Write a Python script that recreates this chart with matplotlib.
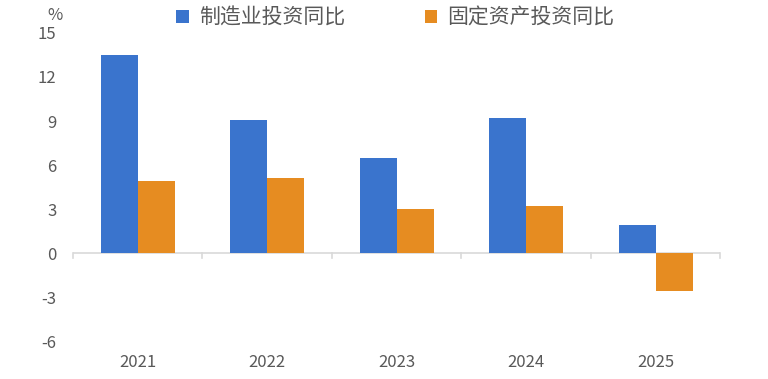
import numpy as np
import matplotlib.pyplot as plt

plt.rcParams['font.family'] = ['Noto Sans CJK SC', 'DejaVu Sans']

# 数据
years = ['2021', '2022', '2023', '2024', '2025']
manufacturing = [13.5, 9.1, 6.5, 9.2, 1.9]
fixed_assets = [4.9, 5.1, 3.0, 3.2, -2.6]
y_ticks = [-6, -3, 0, 3, 6, 9, 12, 15]

blue = '#3A74CD'
orange = '#E68C21'
gray = '#595959'

fig = plt.figure(figsize=(7.68, 3.79), dpi=100)
ax = fig.add_axes([0.095, 0.1, 0.843, 0.813])

x = np.arange(len(years))
w = 0.286
ax.bar(x - w / 2, manufacturing, w, color=blue, label='制造业投资同比')
ax.bar(x + w / 2, fixed_assets, w, color=orange, label='固定资产投资同比')

ax.set_xlim(-0.5, len(years) - 0.5)
ax.set_ylim(-6, 15)
ax.set_yticks(y_ticks)
ax.set_yticklabels([str(v) for v in y_ticks])
ax.tick_params(axis='y', length=0, labelsize=12, labelcolor=gray, pad=12)

# x轴在0处，刻度在类别边界
for s in ['top', 'right', 'left', 'bottom']:
    ax.spines[s].set_visible(False)
ax.axhline(0, color='#d9d9d9', lw=1.2, zorder=0)
for b in np.arange(-0.5, len(years), 1.0):
    ax.plot([b, b], [0, -0.35], color='#d9d9d9', lw=1.2, zorder=0, clip_on=False)
ax.set_xticks(x)
ax.set_xticklabels(years)
ax.tick_params(axis='x', length=0, labelsize=12, labelcolor=gray, pad=9)

fig.text(0.072, 0.958, '%', fontsize=12, color=gray, ha='center', va='center')

fig.legend(loc='center', bbox_to_anchor=(0.515, 0.953), ncol=2, frameon=False,
           fontsize=15, labelcolor=gray, handlelength=0.6, handleheight=0.6,
           columnspacing=3.8, handletextpad=0.5, borderaxespad=0)

fig.savefig('out.png', dpi=100, facecolor='white')
